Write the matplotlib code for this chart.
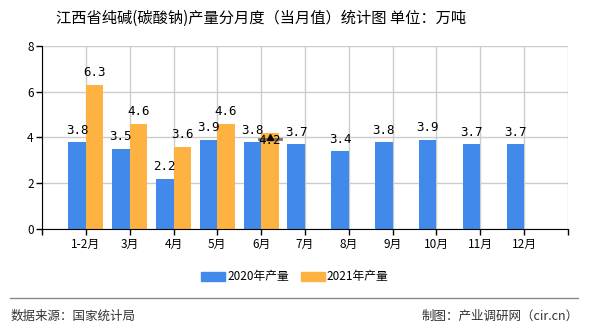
import matplotlib.pyplot as plt
from matplotlib.lines import Line2D
from matplotlib.patches import Patch
import numpy as np

plt.rcParams['font.family'] = ['Noto Sans CJK SC', 'DejaVu Sans']

months = ['1-2月', '3月', '4月', '5月', '6月', '7月', '8月', '9月', '10月', '11月', '12月']
y2020 = [3.8, 3.5, 2.2, 3.9, 3.8, 3.7, 3.4, 3.8, 3.9, 3.7, 3.7]
y2021 = [6.3, 4.6, 3.6, 4.6, 4.2]
mark_month = 5      # 6月, markPoint on the 2021 bar
mark_value = 4.0

blue = '#418AEB'
orange = '#FDB242'

fig = plt.figure(figsize=(5.9, 3.3), dpi=100)
ax = fig.add_axes([0.0712, 0.3052, 0.8915, 0.5563])

w = 0.4
x1 = np.arange(1, len(y2020) + 1)
x2 = np.arange(1, len(y2021) + 1)
ax.bar(x1 - w / 2, y2020, w, color=blue, zorder=2)
ax.bar(x2 + w / 2, y2021, w, color=orange, zorder=2)

for xi, v in zip(x1, y2020):
    ax.annotate(f'{v}', (xi - w / 2, v), xytext=(0, 4), textcoords='offset points',
                ha='center', va='bottom', fontsize=9, family='DejaVu Sans Mono')
for xi, v in zip(x2, y2021):
    if xi == mark_month:
        ax.annotate(f'{v}', (xi + w / 2, v), xytext=(0, -1), textcoords='offset points',
                    ha='center', va='top', fontsize=9, family='DejaVu Sans Mono', zorder=5)
    else:
        ax.annotate(f'{v}', (xi + w / 2, v), xytext=(0, 4), textcoords='offset points',
                    ha='center', va='bottom', fontsize=9, family='DejaVu Sans Mono')

# small mark point on 6月 bar
ax.plot([mark_month + w / 2 - 0.25, mark_month + w / 2 + 0.25], [mark_value - 0.07] * 2,
        color='#555555', lw=2, zorder=4, alpha=0.8)
ax.plot(mark_month + w / 2, mark_value, marker='^', color='black', ms=5, zorder=5)

ax.set_xlim(0, 12)
ax.set_ylim(0, 8)
ax.set_xticks(range(13))
ax.set_xticklabels([''] + months + [''], fontsize=8.5)
ax.set_yticks([0, 2, 4, 6, 8])
ax.set_yticklabels(['0', '2', '4', '6', '8'], fontsize=8.5)
ax.tick_params(length=4, width=1, color='black', pad=2)
ax.grid(True, color='#CCCCCC', lw=1, zorder=0)
ax.set_axisbelow(True)
for s in ['top', 'right']:
    ax.spines[s].set_visible(False)
ax.spines['left'].set_color('black')
ax.spines['bottom'].set_color('black')
ax.spines['left'].set_zorder(3)
ax.spines['bottom'].set_zorder(3)

fig.text(0.442, 0.945, '江西省纯碱(碳酸钠)产量分月度（当月值）统计图 单位：万吨',
         ha='center', va='center', fontsize=11)

handles = [Patch(color=blue), Patch(color=orange)]
fig.legend(handles, ['2020年产量', '2021年产量'], loc='center', bbox_to_anchor=(0.5, 0.161),
           ncol=2, frameon=False, fontsize=8.5, handlelength=2.0, handleheight=0.8,
           handletextpad=0.2, columnspacing=1.0)

fig.add_artist(Line2D([0.017, 0.98], [0.097, 0.097], color='#888888', lw=1))
fig.text(0.017, 0.042, '数据来源：国家统计局', fontsize=9, color='#333333', va='center')
fig.text(0.98, 0.042, '制图：产业调研网（cir.cn）', fontsize=9, color='#333333',
         va='center', ha='right')

fig.savefig('out.png', dpi=100)
